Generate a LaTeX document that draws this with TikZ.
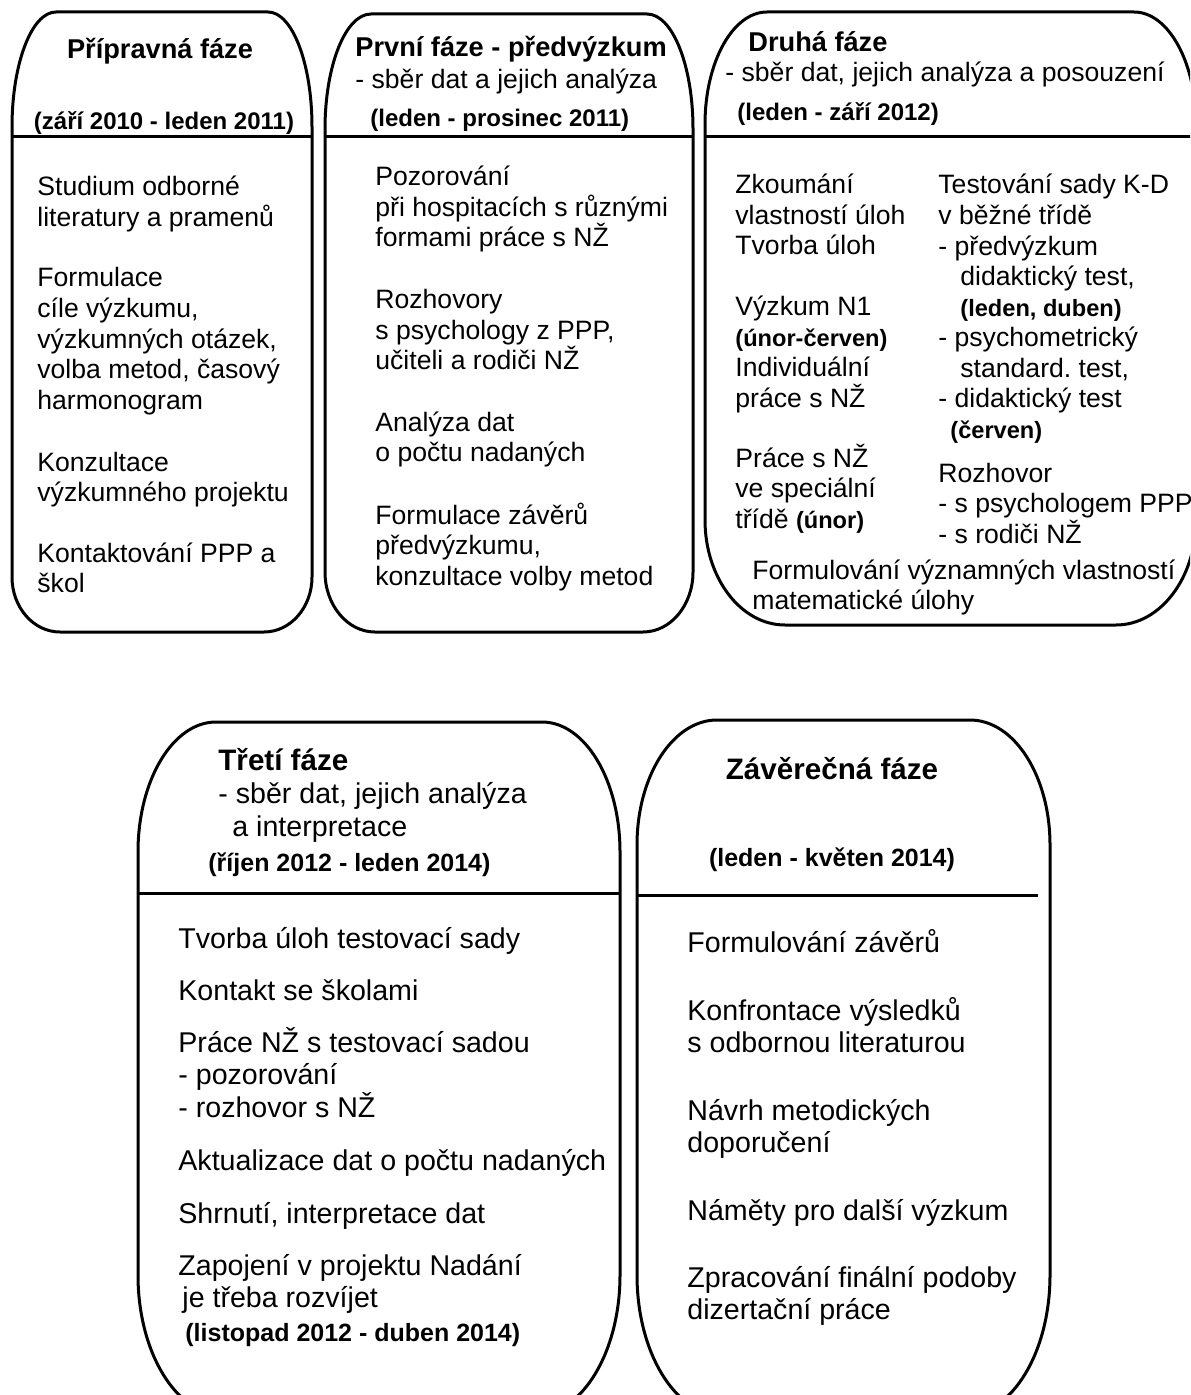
\documentclass[tikz,border=0pt]{standalone}
\usepackage{fontspec}
\setmainfont{Liberation Sans}

% rounded phase frame: left, top, right, bottom, top rx, top ry, bottom rx, bottom ry
\newcommand{\fazebox}[8]{%
  \draw[frame] (#1,#2+#6) arc[start angle=180,end angle=270,x radius=#5,y radius=#6]
    -- (#3-#5,#2) arc[start angle=270,end angle=360,x radius=#5,y radius=#6]
    -- (#3,#4-#8) arc[start angle=0,end angle=90,x radius=#7,y radius=#8]
    -- (#1+#7,#4) arc[start angle=90,end angle=180,x radius=#7,y radius=#8]
    -- cycle;}
\newcommand{\bsm}[1]{{\bfseries\fontsize{11.8}{15.25}\selectfont #1}}

% multi-line nodes sit on the baseline of their last line
\tikzset{
  frame/.style={line width=1.5pt},
  txt/.style={anchor=base west,inner sep=0pt,align=left,font=\fontsize{13.3}{15.25}\selectfont},
  txtl/.style={anchor=base west,inner sep=0pt,align=left,font=\fontsize{14.3}{16.25}\selectfont},
  ttl/.style={inner sep=0pt,font=\bfseries\fontsize{13.6}{16}\selectfont},
  ttll/.style={inner sep=0pt,font=\bfseries\fontsize{14.8}{17}\selectfont},
  dte/.style={inner sep=0pt,font=\bfseries\fontsize{12}{15}\selectfont},
  dtel/.style={inner sep=0pt,font=\bfseries\fontsize{12.5}{15}\selectfont}
}

\begin{document}
\begin{tikzpicture}[x=0.5pt,y=-0.5pt]
\useasboundingbox (0,0) rectangle (1190,1395);
\clip (0,0) rectangle (1190,1395);

% frames
\fazebox{12}{12}{312}{632}{44}{115}{48}{55}
\fazebox{325}{14}{693}{632}{46}{115}{50}{60}
\fazebox{705}{12}{1196}{625}{62}{112}{80}{105}
\fazebox{138}{722}{620}{1415}{78}{130}{85}{140}
\fazebox{637}{720}{1050}{1415}{80}{125}{85}{140}
\draw[frame](12,137)--(312,137);
\draw[frame](325,137)--(693,137);
\draw[frame](705,137)--(1196,137);
\draw[frame](138,893)--(620,893);
\draw[frame](637,895)--(1038,895);

% pripravna faze
\node[ttl,anchor=base] (f1t) at (160,59) {Přípravná fáze};
\node[dte,anchor=base] (f1d) at (164,130) {(září 2010 - leden 2011)};
\node[txt] (f1a) at (37,226.5) {Studium odborné\\literatury a pramenů};
\node[txt] (f1b) at (37,409) {Formulace\\cíle výzkumu,\\výzkumných otázek,\\volba metod, časový\\harmonogram};
\node[txt] (f1c) at (37,501.5) {Konzultace\\výzkumného projektu};
\node[txt] (f1e) at (37,592.5) {Kontaktování PPP a\\škol};

% prvni faze
\node[ttl,anchor=base west] (f2t) at (355,57) {První fáze - předvýzkum};
\node[txt] (f2s) at (355,89) {- sběr dat a jejich analýza};
\node[dte,anchor=base west] (f2d) at (370,127) {(leden - prosinec 2011)};
\node[txt] (f2a) at (375,247) {Pozorování\\při hospitacích s různými\\formami práce s NŽ};
\node[txt] (f2b) at (375,370) {Rozhovory\\s psychology z PPP,\\učiteli a rodiči NŽ};
\node[txt] (f2c) at (375,461.5) {Analýza dat\\o počtu nadaných};
\node[txt] (f2e) at (375,585) {Formulace závěrů\\předvýzkumu,\\konzultace volby metod};

% druha faze
\node[ttl,anchor=base west] (f3t) at (748,52) {Druhá fáze};
\node[txt] (f3s) at (725,82) {- sběr dat, jejich analýza a posouzení};
\node[dte,anchor=base west] (f3d) at (737,121) {(leden - září 2012)};
\node[txt] (f3a) at (735,255) {Zkoumání\\vlastností úloh\\Tvorba úloh};
\node[txt] (f3b) at (735,407.5) {Výzkum N1\\\bsm{(únor-červen)}\\Individuální\\práce s NŽ};
\node[txt] (f3c) at (735,528) {Práce s NŽ\\ve speciální\\třídě \bsm{(únor)}};
\node[txt] (f3e) at (938,438) {Testování sady K-D\\v běžné třídě\\- předvýzkum\\\hspace*{11pt}didaktický test,\\\hspace*{11pt}\bsm{(leden, duben)}\\- psychometrický\\\hspace*{11pt}standard.\ test,\\- didaktický test\\\hspace*{6pt}\bsm{(červen)}};
\node[txt] (f3g) at (938,543) {Rozhovor\\- s psychologem PPP\\- s rodiči NŽ};
\node[txt] (f3h) at (752,609.5) {Formulování významných vlastností\\matematické úlohy};

% treti faze
\node[ttll,anchor=base west] (f4t) at (218,770) {Třetí fáze};
\node[txtl] (f4s) at (218,836) {- sběr dat, jejich analýza\\\hspace*{7pt}a interpretace};
\node[dtel,anchor=base west] (f4d) at (208,871) {(říjen 2012 - leden 2014)};
\node[txtl] (f4a) at (178,948) {Tvorba úloh testovací sady};
\node[txtl] (f4b) at (178,1000) {Kontakt se školami};
\node[txtl] (f4c) at (178,1117) {Práce NŽ s testovací sadou\\- pozorování\\- rozhovor s NŽ};
\node[txtl] (f4e) at (178,1170) {Aktualizace dat o počtu nadaných};
\node[txtl] (f4g) at (178,1223) {Shrnutí, interpretace dat};
\node[txtl] (f4h) at (178,1307.5) {Zapojení v projektu Nadání\\\hspace*{2pt}je třeba rozvíjet};
\node[dtel,anchor=base west] (f4i) at (185,1341) {(listopad 2012 - duben 2014)};

% zaverecna faze
\node[ttll,anchor=base] (f5t) at (832,779) {Závěrečná fáze};
\node[dtel,anchor=base] (f5d) at (832,866) {(leden - květen 2014)};
\node[txtl] (f5a) at (687,952) {Formulování závěrů};
\node[txtl] (f5b) at (687,1052.5) {Konfrontace výsledků\\s odbornou literaturou};
\node[txtl] (f5c) at (687,1152.5) {Návrh metodických\\doporučení};
\node[txtl] (f5e) at (687,1220) {Náměty pro další výzkum};
\node[txtl] (f5g) at (687,1319.5) {Zpracování finální podoby\\dizertační práce};
\end{tikzpicture}
\end{document}
